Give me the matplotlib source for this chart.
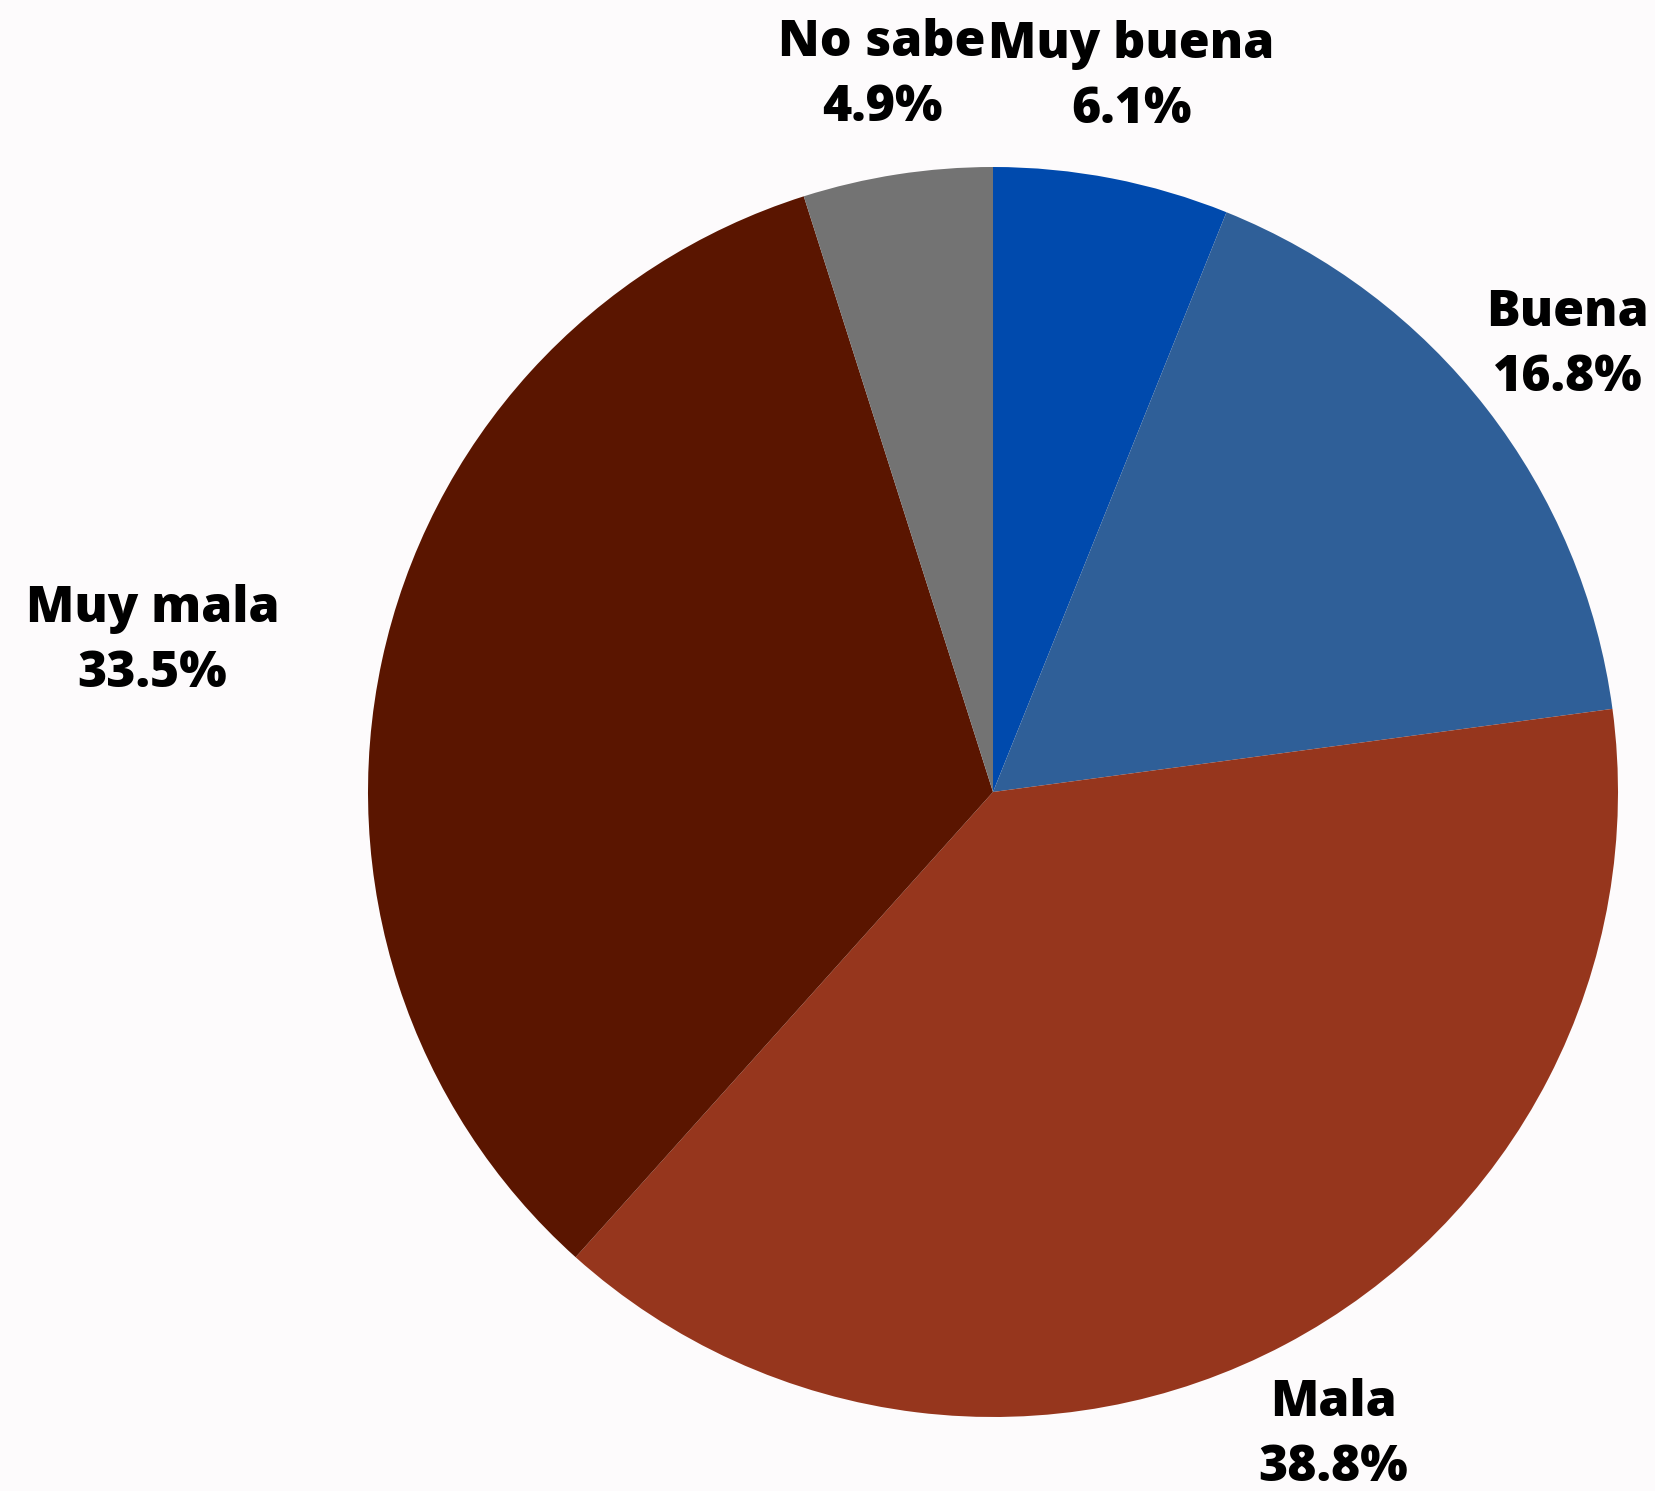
import matplotlib
matplotlib.use("Agg")
import matplotlib.pyplot as plt
import numpy as np

categories = ["Muy buena", "Buena", "Mala", "Muy mala", "No sabe"]
shares = [6.1, 16.8, 38.8, 33.5, 4.9]
colors = ["#004AAD", "#2F5F98", "#96361D", "#5A1500", "#737373"]

# label placement: radial distance (in radii) and angle nudge (degrees)
label_dist = [1.165, 1.165, 1.165, 1.366, 1.16]
label_nudge = [0, 0, 0, 2.0, 0]

W, H = 1656, 1491
fig = plt.figure(figsize=(W / 100, H / 100), dpi=100, facecolor="#FDFBFC")
ax = fig.add_axes([0, 0, 1, 1])

cx, cy, r = 993, H - 792, 625
wedges, _ = ax.pie(shares, colors=colors, startangle=90, counterclock=False,
                   center=(cx, cy), radius=r, frame=True)
ax.set_xlim(0, W)
ax.set_ylim(0, H)
ax.set_aspect("equal")
ax.axis("off")

for w, name, val, d, nudge in zip(wedges, categories, shares, label_dist, label_nudge):
    ang = np.deg2rad((w.theta1 + w.theta2) / 2 + nudge)
    x = cx + d * r * np.cos(ang)
    y = cy + d * r * np.sin(ang)
    ax.text(x, y, f"{name}\n{val:.1f}%", ha="center", va="center",
            fontsize=36, fontweight="heavy", family=["Open Sans", "DejaVu Sans"],
            linespacing=1.4, color="black")

fig.savefig("out.png", dpi=100, facecolor=fig.get_facecolor())
